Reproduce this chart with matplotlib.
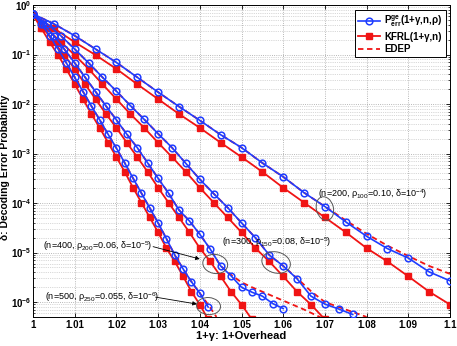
import numpy as np
import matplotlib
matplotlib.use("Agg")
import matplotlib.pyplot as plt
import matplotlib.transforms as mtrans
from matplotlib.patches import Ellipse
from matplotlib.ticker import FixedLocator, LogLocator, NullFormatter

plt.rcParams["font.family"] = ["Liberation Sans", "DejaVu Sans"]
plt.rcParams["mathtext.fontset"] = "custom"
plt.rcParams["mathtext.rm"] = "Liberation Sans"
plt.rcParams["mathtext.it"] = "Liberation Sans:italic"
plt.rcParams["mathtext.bf"] = "Liberation Sans:bold"

# block lengths; markers sit at one extra symbol each (overhead step = 1/n)
block_sizes = [200, 300, 400, 500]

# log10 of the error probability, index = extra symbols
kfrl_log = [-0.20, -0.47, -0.75, -1.01, -1.29, -1.60, -1.90, -2.20, -2.48, -2.78,
            -3.07, -3.37, -3.69, -3.99, -4.29, -4.59, -4.91, -5.18, -5.48, -5.79,
            -6.05, -6.35, -6.65]

pge_log = {
    200: [-0.18, -0.38, -0.62, -0.89, -1.16, -1.46, -1.76, -2.05, -2.33, -2.62,
          -2.88, -3.19, -3.47, -3.79, -4.07, -4.38, -4.67, -4.92, -5.11, -5.39, -5.57],
    300: [-0.18, -0.38, -0.62, -0.89, -1.17, -1.46, -1.74, -2.03, -2.31, -2.60,
          -2.88, -3.20, -3.52, -3.81, -4.09, -4.40, -4.70, -5.05, -5.27, -5.53,
          -5.88, -6.04, -6.14, -6.25],
    400: [-0.18, -0.38, -0.62, -0.89, -1.17, -1.46, -1.75, -2.04, -2.32, -2.61,
          -2.88, -3.19, -3.50, -3.80, -4.14, -4.36, -4.63, -4.93, -5.27, -5.47,
          -5.70, -5.80, -5.88, -6.03, -6.13],
    500: [-0.18, -0.38, -0.62, -0.89, -1.17, -1.46, -1.75, -2.04, -2.32, -2.61,
          -2.89, -3.19, -3.50, -3.80, -4.10, -4.40, -4.72, -5.05, -5.33, -5.59,
          -5.82, -6.10],
}

edep_log = {
    200: [-0.18, -0.38, -0.62, -0.89, -1.16, -1.46, -1.76, -2.05, -2.33, -2.62,
          -2.88, -3.19, -3.47, -3.79, -4.07, -4.35, -4.62, -4.86, -5.07, -5.27, -5.43],
    300: [-0.18, -0.38, -0.62, -0.89, -1.17, -1.46, -1.74, -2.03, -2.31, -2.60,
          -2.88, -3.20, -3.52, -3.81, -4.09, -4.40, -4.70, -5.05, -5.27, -5.52,
          -5.78, -6.00, -6.10, -6.20, -6.30],
    400: [-0.18, -0.38, -0.62, -0.89, -1.17, -1.46, -1.75, -2.04, -2.32, -2.61,
          -2.88, -3.19, -3.50, -3.80, -4.14, -4.36, -4.63, -4.93, -5.27, -5.45,
          -5.60, -5.70, -5.79, -5.88, -5.97, -6.06, -6.15, -6.25, -6.35],
    500: [-0.18, -0.38, -0.62, -0.89, -1.17, -1.46, -1.75, -2.04, -2.32, -2.61,
          -2.89, -3.19, -3.50, -3.80, -4.10, -4.40, -4.72, -5.05, -5.33, -5.59,
          -5.82, -6.05, -6.30],
}

x_ticks = [1, 1.01, 1.02, 1.03, 1.04, 1.05, 1.06, 1.07, 1.08, 1.09, 1.1]
x_tick_labels = ["1", "1.01", "1.02", "1.03", "1.04", "1.05", "1.06", "1.07", "1.08", "1.09", "1.1"]
y_exponents = [0, -1, -2, -3, -4, -5, -6]

# (text, text pos, ellipse centre, arrow tip or None)
notes = [
    (r"(n=200, ρ$_{100}$=0.10, δ=10$^{-4}$)", (1.0683, 10 ** -3.82), (1.0700, 10 ** -4.11), None),
    (r"(n=300, ρ$_{150}$=0.08, δ=10$^{-5}$)", (1.0453, 10 ** -4.79), (1.0583, 10 ** -5.20), None),
    (r"(n=400, ρ$_{200}$=0.06, δ=10$^{-5}$)", (1.0023, 10 ** -4.88), (1.0437, 10 ** -5.23), (1.0400, 10 ** -5.13)),
    (r"(n=500, ρ$_{250}$=0.055, δ=10$^{-6}$)", (1.0029, 10 ** -5.90), (1.0421, 10 ** -6.08), (1.0393, 10 ** -6.04)),
]
ellipse_sizes = [(0.17, 0.24, 15), (0.29, 0.21, -15), (0.25, 0.19, -10), (0.24, 0.17, -5)]

blue = "#1f3dff"
red = "#f01414"

fig = plt.figure(figsize=(4.57, 3.46), dpi=100)
ax = fig.add_axes([0.0722, 0.0838, 0.9125, 0.9017])

for n in block_sizes:
    y_red = 10 ** np.array(kfrl_log)
    x_red = 1 + np.arange(len(y_red)) / n
    ax.plot(x_red, y_red, "-", color=red, lw=1.3, marker="s", ms=4, mfc=red, mec=red, zorder=2)
    y_ed = 10 ** np.array(edep_log[n])
    x_ed = 1 + np.arange(len(y_ed)) / n
    ax.plot(x_ed, y_ed, color=red, lw=1.3, ls=(0, (3, 2)), zorder=3)
    y_bl = 10 ** np.array(pge_log[n])
    x_bl = 1 + np.arange(len(y_bl)) / n
    ax.plot(x_bl, y_bl, "-", color=blue, lw=1.2, marker="o", ms=4.8, mfc="none", mec=blue, mew=1.1, zorder=4)

ax.set_yscale("log")
ax.set_xlim(1, 1.1)
ax.set_ylim(5e-7, 1)

ax.xaxis.set_major_locator(FixedLocator(x_ticks))
ax.set_xticklabels(x_tick_labels, fontsize=7, fontweight="bold")
ax.set_yticks([10.0 ** e for e in y_exponents])
ax.set_yticklabels([r"$\mathbf{10^{%d}}$" % e for e in y_exponents], fontsize=7)
ax.yaxis.set_minor_locator(LogLocator(base=10, subs=np.arange(2, 10)))
ax.yaxis.set_minor_formatter(NullFormatter())
ax.tick_params(which="both", direction="in", top=True, right=True)
ax.tick_params(which="major", length=3, width=0.6, pad=2)
ax.tick_params(axis="y", which="major", pad=1)
ax.tick_params(which="minor", length=1.5, width=0.5)

ax.grid(True, which="major", ls=":", lw=0.6, color="#a0a0a0")
ax.grid(True, which="minor", axis="y", ls=":", lw=0.5, color="#b4b4b4")
for s in ax.spines.values():
    s.set_linewidth(0.7)

ax.set_xlabel("1+γ: 1+Overhead", fontsize=8, fontweight="bold", labelpad=1)
ax.set_ylabel("δ: Decoding Error Probability", fontsize=7.5, fontweight="bold")
ax.yaxis.set_label_coords(-0.055, 0.48)

for (txt, tpos, cpos, tip), (w, h, ang) in zip(notes, ellipse_sizes):
    ax.text(tpos[0], tpos[1], txt, fontsize=6.5, ha="left", va="center", zorder=6)
    tr = fig.dpi_scale_trans + mtrans.ScaledTranslation(cpos[0], cpos[1], ax.transData)
    ax.add_patch(Ellipse((0, 0), w, h, angle=ang, transform=tr, fill=False,
                         ec="#555555", lw=0.7, zorder=6))
    if tip is not None:
        ax.annotate("", xy=tip, xytext=(tpos[0] + 0.0265, tpos[1]),
                    arrowprops=dict(arrowstyle="-|>", lw=0.6, color="k", mutation_scale=6,
                                    shrinkA=0, shrinkB=0), zorder=6)

handles = [
    plt.Line2D([], [], color=blue, lw=1.2, marker="o", ms=4.8, mfc="none", mec=blue, mew=1.1),
    plt.Line2D([], [], color=red, lw=1.3, marker="s", ms=4, mfc=red, mec=red),
    plt.Line2D([], [], color=red, lw=1.3, ls=(0, (3, 2))),
]
labels = [r"P$^{\mathbf{ge}}_{\mathbf{err}}$(1+γ,n,ρ)", "KFRL(1+γ,n)", "EDEP"]
leg = ax.legend(handles, labels, loc="upper right", bbox_to_anchor=(0.99, 0.984),
                prop={"size": 7, "weight": "bold"}, handlelength=2.3, handletextpad=0.4,
                borderpad=0.35, labelspacing=0.25, fancybox=False, framealpha=1,
                edgecolor="k", borderaxespad=0)
leg.get_frame().set_linewidth(0.7)

fig.savefig("out.png", dpi=100)
